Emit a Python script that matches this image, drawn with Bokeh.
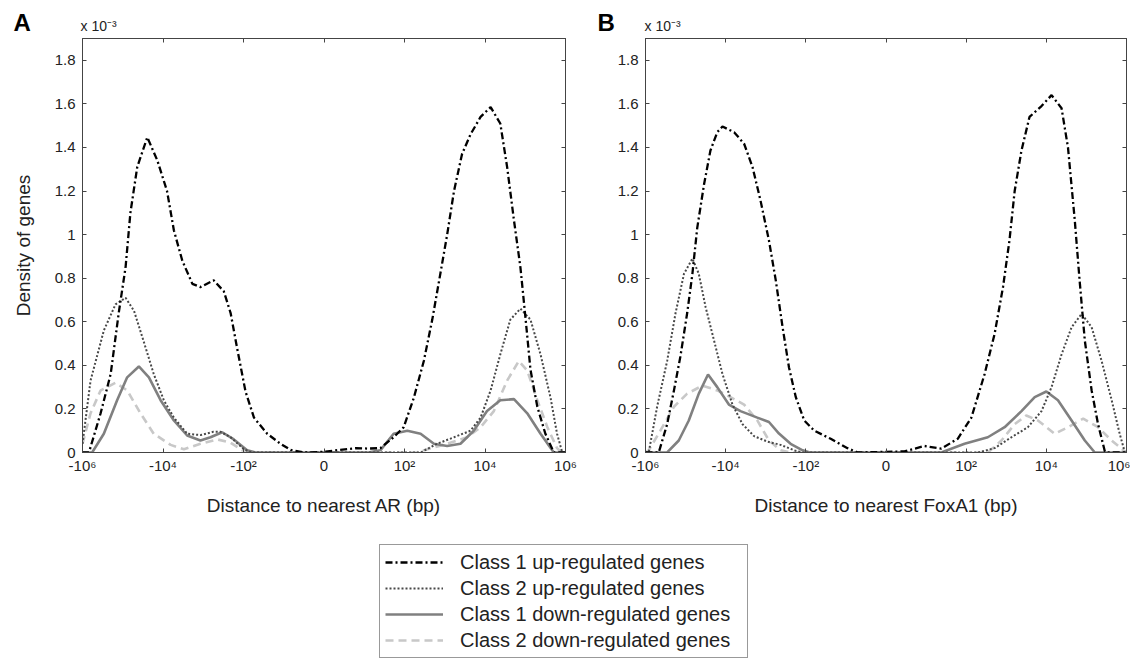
from bokeh.plotting import figure
from bokeh.models import Range1d, FixedTicker, LinearAxis, Legend, LegendItem, CustomJSTickFormatter
from bokeh.core.properties import value
from bokeh.layouts import column, row
from bokeh.embed import file_html
from bokeh.resources import INLINE

# x coordinate: signed log10 of distance (bp); ticks at -10^6 ... 10^6
x_ticks = [-6, -4, -2, 0, 2, 4, 6]
x_tick_labels = ["-10⁶", "-10⁴", "-10²", "0", "10²", "10⁴", "10⁶"]
y_ticks = [0, 0.2, 0.4, 0.6, 0.8, 1, 1.2, 1.4, 1.6, 1.8]   # density x 10^-3

series_names = ["Class 1 up-regulated genes", "Class 2 up-regulated genes",
                "Class 1 down-regulated genes", "Class 2 down-regulated genes"]
panel_letters = ["A", "B"]
scale_note = "x 10⁻³"

# ---------- Panel A : distance to nearest AR ----------
a_up1_x = [-6, -5.84, -5.55, -5.30, -5.10, -4.93, -4.81, -4.64, -4.39, -4.14, -3.90, -3.73, -3.52, -3.27,
           -3.07, -2.74, -2.49, -2.32, -2.16, -1.95, -1.74, -1.41, -1.08, -0.83, -0.5, 0.0, 0.4, 0.8, 1.1,
           1.40, 1.73, 1.98, 2.23, 2.48, 2.69, 2.89, 3.06, 3.23, 3.43, 3.64, 3.89, 4.14, 4.38, 4.55, 4.72,
           4.88, 5.01, 5.13, 5.30, 5.50, 5.71, 6]
a_up1_y = [0, 0, 0.18, 0.36, 0.64, 0.85, 1.10, 1.31, 1.447, 1.34, 1.20, 1.02, 0.88, 0.774,
           0.759, 0.79, 0.74, 0.64, 0.48, 0.28, 0.16, 0.086, 0.04, 0.012, 0, 0.003, 0.012, 0.02, 0.018,
           0.02, 0.07, 0.116, 0.25, 0.42, 0.61, 0.82, 1.00, 1.20, 1.37, 1.46, 1.54, 1.585, 1.51, 1.31, 1.065,
           0.85, 0.61, 0.38, 0.21, 0.086, 0, 0]

a_up2_x = [-6, -5.80, -5.47, -5.18, -4.93, -4.72, -4.48, -4.23, -3.98, -3.73, -3.40, -3.07, -2.75, -2.57,
           -2.32, -1.99, -1.8, 2.40, 2.81, 3.23, 3.64, 3.89, 4.14, 4.38, 4.63, 4.88, 5.13, 5.38, 5.63,
           5.79, 5.92, 6]
a_up2_y = [0.04, 0.33, 0.56, 0.68, 0.71, 0.65, 0.51, 0.36, 0.24, 0.16, 0.086, 0.08, 0.095, 0.095,
           0.07, 0.015, 0, 0, 0.04, 0.07, 0.10, 0.16, 0.285, 0.45, 0.61, 0.66, 0.61, 0.45, 0.25,
           0.086, 0, 0]

a_dn1_x = [-6, -5.76, -5.47, -5.14, -4.89, -4.60, -4.35, -4.06, -3.73, -3.40, -3.07, -2.82, -2.53, -2.24,
           -1.91, -1.7, 1.1, 1.40, 1.73, 2.07, 2.40, 2.73, 3.06, 3.39, 3.72, 4.05, 4.38, 4.72, 5.05, 5.38,
           5.71, 6]
a_dn1_y = [0, 0, 0.086, 0.24, 0.345, 0.395, 0.345, 0.24, 0.147, 0.078, 0.055, 0.07, 0.093, 0.06,
           0.01, 0, 0, 0.01, 0.086, 0.10, 0.086, 0.04, 0.03, 0.04, 0.10, 0.19, 0.24, 0.245, 0.18, 0.086,
           0, 0]

a_dn2_x = [-6, -5.80, -5.55, -5.18, -4.89, -4.56, -4.23, -3.81, -3.48, -3.07, -2.65, -2.32, -2.03, -1.8,
           2.3, 2.57, 3.06, 3.56, 3.89, 4.22, 4.55, 4.84, 5.05, 5.30, 5.55, 5.79, 5.9, 6]
a_dn2_y = [0.04, 0.18, 0.285, 0.32, 0.285, 0.18, 0.086, 0.035, 0.015, 0.04, 0.06, 0.045, 0.01, 0,
           0, 0.015, 0.04, 0.07, 0.116, 0.19, 0.33, 0.42, 0.376, 0.24, 0.116, 0.02, 0, 0]

# ---------- Panel B : distance to nearest FoxA1 ----------
b_up1_x = [-6, -5.67, -5.46, -5.29, -5.13, -4.96, -4.83, -4.71, -4.54, -4.38, -4.21, -4.08, -3.79, -3.54,
           -3.33, -3.13, -2.92, -2.75, -2.58, -2.42, -2.25, -2.04, -1.79, -1.38, -0.96, -0.71, 0.0, 0.46,
           0.96, 1.38, 1.79, 2.13, 2.46, 2.71, 2.92, 3.08, 3.21, 3.38, 3.58, 3.88, 4.13, 4.38, 4.54, 4.71,
           4.83, 4.96, 5.13, 5.29, 5.46, 5.5, 6]
b_up1_y = [0, 0, 0.13, 0.285, 0.44, 0.64, 0.82, 1.03, 1.23, 1.386, 1.47, 1.496, 1.47, 1.417,
           1.31, 1.156, 0.973, 0.79, 0.575, 0.39, 0.254, 0.147, 0.10, 0.063, 0.02, 0, 0.003, 0.005,
           0.03, 0.018, 0.063, 0.16, 0.36, 0.545, 0.76, 0.973, 1.20, 1.386, 1.54, 1.59, 1.64, 1.58, 1.40, 1.065,
           0.79, 0.514, 0.285, 0.13, 0.005, 0, 0]

b_up2_x = [-6, -5.92, -5.71, -5.46, -5.25, -5.04, -4.83, -4.67, -4.50, -4.29, -4.08, -3.83, -3.58, -3.29,
           -2.96, -2.63, -2.29, -2.1, 2.29, 2.71, 3.13, 3.54, 3.88, 4.13, 4.38, 4.63, 4.88, 5.13, 5.38,
           5.63, 5.83, 5.96, 6]
b_up2_y = [0, 0, 0.21, 0.42, 0.64, 0.82, 0.89, 0.82, 0.667, 0.514, 0.36, 0.22, 0.13, 0.075,
           0.05, 0.035, 0.01, 0, 0, 0.02, 0.07, 0.116, 0.19, 0.30, 0.45, 0.575, 0.636, 0.575, 0.42,
           0.24, 0.086, 0, 0]

b_dn1_x = [-6, -5.46, -5.17, -4.92, -4.67, -4.44, -4.21, -3.92, -3.63, -3.21, -2.92, -2.67, -2.38, -2.08,
           -1.9, 1.38, 1.96, 2.54, 2.96, 3.38, 3.71, 4.00, 4.29, 4.63, 4.96, 5.21, 6]
b_dn1_y = [0, 0, 0.055, 0.147, 0.27, 0.358, 0.30, 0.22, 0.19, 0.16, 0.14, 0.087, 0.04, 0.01,
           0, 0, 0.04, 0.07, 0.116, 0.19, 0.254, 0.28, 0.24, 0.147, 0.055, 0, 0]

b_dn2_x = [-6, -5.92, -5.63, -5.29, -4.96, -4.58, -4.21, -3.88, -3.54, -3.21, -2.92, -2.63, -2.4,
           2.54, 2.88, 3.21, 3.50, 3.79, 4.21, 4.54, 4.92, 5.29, 5.63, 5.96, 6]
b_dn2_y = [0, 0.01, 0.10, 0.21, 0.27, 0.307, 0.285, 0.254, 0.22, 0.147, 0.055, 0.01, 0,
           0, 0.055, 0.13, 0.17, 0.147, 0.086, 0.116, 0.155, 0.116, 0.055, 0.005, 0]

FONT = "Liberation Sans"
TXT = "#222222"
AX = "#444444"

# styles in order: class1 up, class2 up, class1 down, class2 down
styles = [
    dict(line_color="#000000", line_width=2.3, line_dash="7 3 2 3"),
    dict(line_color="#484848", line_width=2.0, line_dash="2 2"),
    dict(line_color="#808080", line_width=2.6, line_dash="solid"),
    dict(line_color="#c8c8c8", line_width=2.6, line_dash="8 5"),
]
draw_order = [3, 2, 1, 0]

HEADER_H = 34
PANEL_H = 496
LEGEND_H = 659 - HEADER_H - PANEL_H
FRAME_TOP = 4
BORDER_BOTTOM = 78

# ---------- header (panel letters and scale note) ----------
ph = figure(width=1130, height=HEADER_H, x_range=Range1d(0, 1130), y_range=Range1d(HEADER_H, 0),
            output_backend="svg", toolbar_location=None, x_axis_type=None, y_axis_type=None,
            min_border=0, title=None)
ph.xgrid.grid_line_color = None
ph.ygrid.grid_line_color = None
ph.outline_line_color = None
ph.text(x=[13, 597], y=[21.5, 21.5], text=panel_letters, text_font=value(FONT),
        text_font_size="24px", text_font_style="bold", text_color="#000000",
        text_baseline="middle", text_align="left")
ph.text(x=[80, 644], y=[25, 25], text=[scale_note, scale_note], text_font=value(FONT),
        text_font_size="14px", text_color=TXT, text_baseline="middle", text_align="left")


def make_panel(xs, ys, xlabel, fig_w, b_left, b_right, ylabel):
    p = figure(width=fig_w, height=PANEL_H, x_range=Range1d(-6, 6), y_range=Range1d(0, 1.9),
               output_backend="svg", toolbar_location=None, title=None,
               min_border_left=b_left, min_border_right=b_right,
               min_border_top=FRAME_TOP, min_border_bottom=BORDER_BOTTOM)
    p.xgrid.grid_line_color = None
    p.ygrid.grid_line_color = None
    p.outline_line_color = AX
    p.outline_line_width = 1
    p.background_fill_color = "white"
    p.border_fill_color = "white"

    for i in draw_order:
        p.line(xs[i], ys[i], **styles[i])

    xa = p.xaxis[0]
    xa.ticker = FixedTicker(ticks=x_ticks, minor_ticks=[])
    xa.major_label_overrides = {t: l for t, l in zip(x_ticks, x_tick_labels)}
    ya = p.yaxis[0]
    ya.ticker = FixedTicker(ticks=y_ticks, minor_ticks=[])
    ya.formatter = CustomJSTickFormatter(code="return String(Number(tick.toFixed(1)));")
    for ax in (xa, ya):
        ax.axis_line_color = AX
        ax.major_tick_line_color = AX
        ax.major_tick_in = 4
        ax.major_tick_out = 0
        ax.minor_tick_line_color = None
        ax.major_label_text_font = FONT
        ax.major_label_text_font_size = "15px"
        ax.major_label_text_color = TXT
        ax.axis_label_text_font = FONT
        ax.axis_label_text_font_size = "19px"
        ax.axis_label_text_font_style = "normal"
        ax.axis_label_text_color = TXT
    xa.major_label_standoff = 4
    ya.major_label_standoff = 7
    xa.axis_label = xlabel
    xa.axis_label_standoff = 18
    if ylabel:
        ya.axis_label = ylabel
        ya.axis_label_standoff = 18

    # mirrored ticks on top and right (box style), no labels
    blank = CustomJSTickFormatter(code="return '';")
    top = LinearAxis(ticker=FixedTicker(ticks=x_ticks, minor_ticks=[]), formatter=blank,
                     major_label_standoff=0,
                     major_tick_in=4, major_tick_out=0, axis_line_color=AX,
                     major_tick_line_color=AX, minor_tick_line_color=None)
    right = LinearAxis(ticker=FixedTicker(ticks=y_ticks, minor_ticks=[]), formatter=blank,
                       major_label_standoff=0,
                       major_tick_in=4, major_tick_out=0, axis_line_color=AX,
                       major_tick_line_color=AX, minor_tick_line_color=None)
    p.add_layout(top, "above")
    p.add_layout(right, "right")
    return p


pA = make_panel([a_up1_x, a_up2_x, a_dn1_x, a_dn2_x], [a_up1_y, a_up2_y, a_dn1_y, a_dn2_y],
                "Distance to nearest AR (bp)", 595, 82, 30, "Density of genes")
pB = make_panel([b_up1_x, b_up2_x, b_dn1_x, b_dn2_x], [b_up1_y, b_up2_y, b_dn1_y, b_dn2_y],
                "Distance to nearest FoxA1 (bp)", 535, 50, 4, None)

# ---------- legend panel ----------
pL = figure(width=1130, height=LEGEND_H, x_range=Range1d(0, 1), y_range=Range1d(0, 1),
            output_backend="svg", toolbar_location=None, x_axis_type=None, y_axis_type=None,
            min_border=0, title=None)
pL.xgrid.grid_line_color = None
pL.ygrid.grid_line_color = None
pL.outline_line_color = None
items = []
for i, name in enumerate(series_names):
    r = pL.line([5, 6], [5, 6], **styles[i])   # off-frame; only used for the legend glyph
    items.append(LegendItem(label=name, renderers=[r]))
leg = Legend(items=items, location=(379, 1), orientation="vertical",
             label_text_font=FONT, label_text_font_size="20px", label_text_color=TXT,
             glyph_width=58, glyph_height=24, label_height=24, label_width=282, label_standoff=17,
             spacing=2, padding=5, margin=0,
             border_line_color="#333333", border_line_width=1,
             background_fill_color="white", background_fill_alpha=1.0)
pL.add_layout(leg, "center")

layout = column(ph, row(pA, pB), pL)

with open("out.html", "w") as f:
    f.write(file_html(layout, INLINE))
